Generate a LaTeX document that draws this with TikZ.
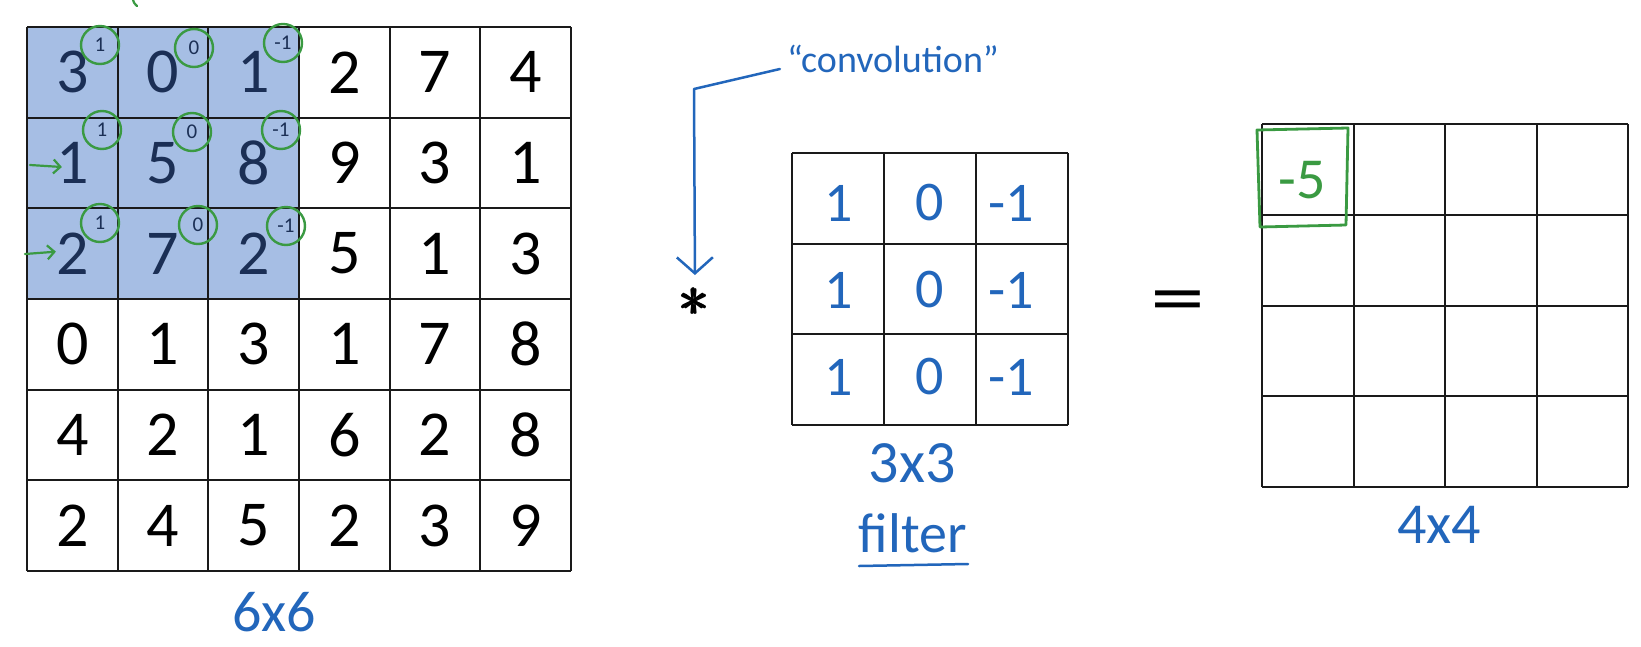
\documentclass[tikz,border=0pt]{standalone}
\usepackage{amsmath}
\usepackage{fontspec}
\setmainfont{Carlito}
\usetikzlibrary{arrows.meta}
\definecolor{hlblue}{HTML}{A6BEE4}
\definecolor{navy}{HTML}{1B2F55}
\definecolor{pen}{HTML}{2266BB}
\definecolor{gpen}{HTML}{3A9A42}
\definecolor{gridc}{HTML}{1A1A1A}
\begin{document}
\begin{tikzpicture}[x=1pt,y=-1pt,
  gridline/.style={draw=gridc, line width=2pt},
  cellnum/.style={font=\fontsize{64}{64}\selectfont, inner sep=0pt},
  kern/.style={draw=gpen, line width=2.4pt, circle, minimum size=38pt, inner sep=0pt,
    text=navy, font=\fontsize{21}{21}\selectfont},
  hand/.style={text=pen, inner sep=0pt},
  penline/.style={draw=pen, line width=2.5pt, line cap=round, line join=round},
  greenpen/.style={draw=gpen, line width=2.2pt, line cap=round, line join=round},
]
\useasboundingbox (0,0) rectangle (1641,646);
\fill[white] (0,0) rectangle (1641,646);

% ---------- 6x6 input ----------
\fill[hlblue] (27,27) rectangle (299,299);
\foreach \i in {0,...,6} {
  \draw[gridline] ({27+90.667*\i},27) -- ({27+90.667*\i},571);
  \draw[gridline] (27,{27+90.667*\i}) -- (571,{27+90.667*\i});
}
\foreach \row [count=\r from 0] in {{3,0,1,2,7,4},{1,5,8,9,3,1},{2,7,2,5,1,3},{0,1,3,1,7,8},{4,2,1,6,2,8},{2,4,5,2,3,9}} {
  \foreach \v [count=\c from 0] in \row {
    \def\numcol{black}
    \ifnum\r<3 \ifnum\c<3 \def\numcol{navy}\fi\fi
    \node[cellnum, text=\numcol] (in-\r-\c) at ({27+90.667*(\c+0.5)},{27+90.667*(\r+0.5)}) {\v};
  }
}

% kernel weights circled
\node[kern] (k-0-0) at (100,45) {1};
\node[kern] (k-0-1) at (194,48) {0};
\node[kern] (k-0-2) at (283,43) {-1};
\node[kern] (k-1-0) at (102,130) {1};
\node[kern] (k-1-1) at (192,132) {0};
\node[kern] (k-1-2) at (281,130) {-1};
\node[kern] (k-2-0) at (100,223) {1};
\node[kern] (k-2-1) at (198,225) {0};
\node[kern] (k-2-2) at (286,226) {-1};

% small green arrows
\coordinate (ga1) at (30,165);
\coordinate (ga2) at (25,254);
\draw[greenpen, -{Straight Barb[length=7pt,width=14pt]}] (ga1) -- ([xshift=6pt,yshift=-4pt]in-1-0.west);
\draw[greenpen, -{Straight Barb[length=7pt,width=14pt]}] (ga2) -- ([xshift=0pt,yshift=2pt]in-2-0.west);
% fragment at top
\draw[greenpen] (133,0) .. controls (134,3) .. (137,6);

\node[hand, font=\fontsize{58}{58}\selectfont] (lab66) at (274,612) {6x6};

% ---------- operator ----------
\node[inner sep=0pt] (star) at (695,302) {\scalebox{6}{$\pmb{\ast}$}};
\node[hand, anchor=base, font=\fontsize{38}{38}\selectfont] (conv) at (893,72) {``convolution''};
\coordinate (bend) at (694,89);
\draw[penline, -{Straight Barb[length=16pt,width=36pt]}, shorten >=12pt]
  ([shift={(-7,-3)}]conv.base west) -- (bend) -- (star.north);

% ---------- 3x3 filter ----------
\foreach \i in {0,...,3} {
  \draw[gridline] ({792+92*\i},153) -- ({792+92*\i},424.5);
  \draw[gridline] (792,{153+90.5*\i}) -- (1068,{153+90.5*\i});
}
\foreach \r/\y in {0/203,1/290,2/377} {
  \node[hand, font=\fontsize{56}{56}\selectfont] (f-\r-0) at (839,\y) {1};
  \node[hand, font=\fontsize{56}{56}\selectfont] (f-\r-1) at (930,\y) {0};
  \node[hand, font=\fontsize{56}{56}\selectfont] (f-\r-2) at (1011,\y) {-1};
}
\node[hand, font=\fontsize{60}{60}\selectfont] (lab33) at (912,463) {3x3};
\node[hand, font=\fontsize{56}{56}\selectfont] (labfilter) at (913,533) {filter};
\draw[penline] (859,566) -- (968,564);

% ---------- equals ----------
\node[inner sep=0pt, font=\fontsize{76}{76}\selectfont] (eq) at (1178,307) {\scalebox{1.45}[1]{=}};

% ---------- 4x4 output ----------
\foreach \i in {0,...,4} {
  \draw[gridline] ({1262+91.5*\i},124) -- ({1262+91.5*\i},487);
  \draw[gridline] (1262,{124+90.75*\i}) -- (1628,{124+90.75*\i});
}
\node[inner sep=0pt, text=gpen, font=\fontsize{58}{58}\selectfont] (out) at (1302,180) {-5};
\draw[greenpen, line width=2.8pt] (1257,130) -- (1348,128) -- (1346,225) -- (1260,227) -- cycle;
\node[hand, font=\fontsize{58}{58}\selectfont] (lab44) at (1439,525) {4x4};
\end{tikzpicture}
\end{document}
